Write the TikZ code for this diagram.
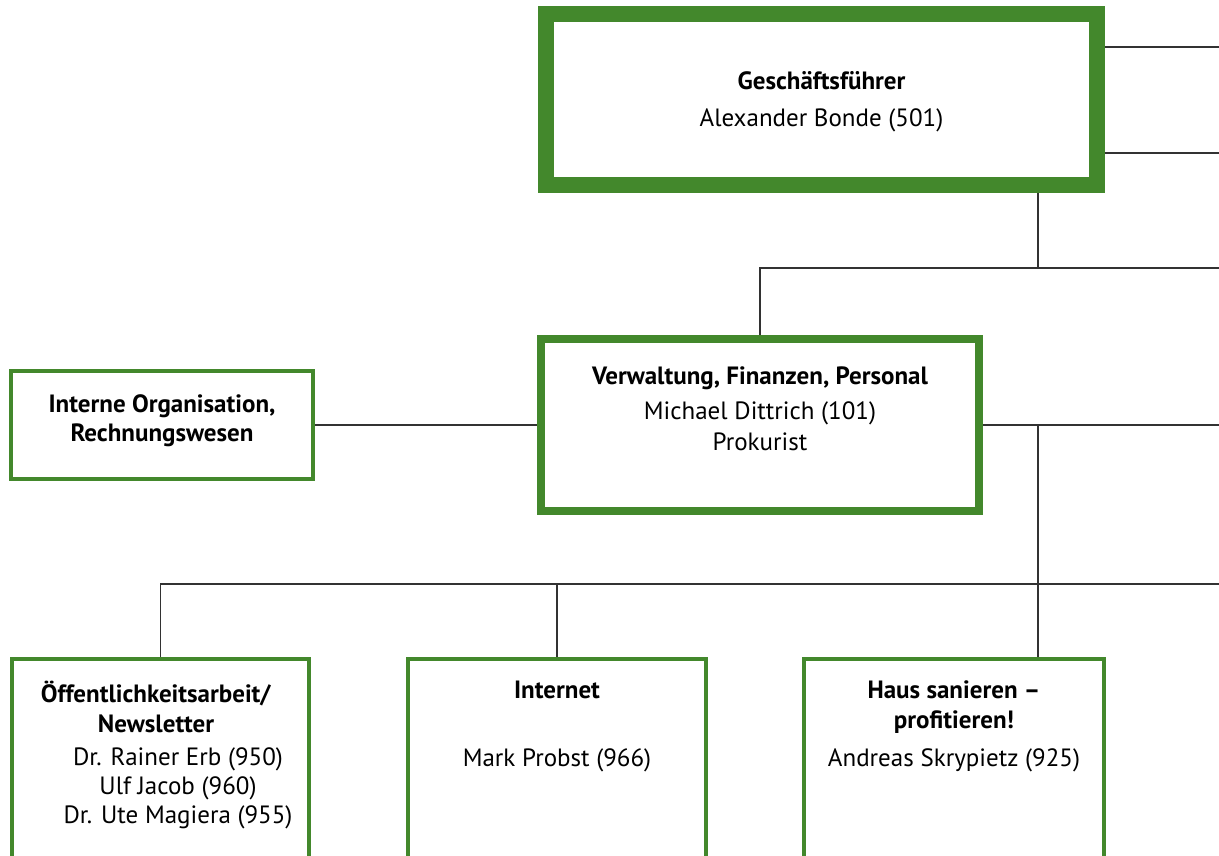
\documentclass[tikz,border=0pt]{standalone}
\usepackage{fontspec}
\setmainfont{PT Sans}
\usetikzlibrary{positioning,backgrounds}
\definecolor{boxgreen}{RGB}{67,136,44}
\definecolor{linegray}{RGB}{50,50,50}

\begin{document}
\begin{tikzpicture}[x=1pt,y=-1pt,
  box/.style={draw=boxgreen, line width=4pt, fill=white, rectangle, inner sep=0pt},
  headbox/.style={box, line width=16pt},
  midbox/.style={box, line width=8pt},
  txt/.style={align=center, inner sep=0pt, font=\fontsize{25}{29}\selectfont},
  conn/.style={draw=linegray, line width=1.2pt}]
\useasboundingbox (0,0) rectangle (1219,856);
\clip (0,0) rectangle (1219,856);
\node [headbox, minimum width=551pt, minimum height=171pt] (gf) at (821.5,99.5) {};
\node [midbox, minimum width=438pt, minimum height=172pt] (vfp) at (760,425) {};
\node [box, minimum width=302pt, minimum height=108pt] (io) at (162,425) {};
\node [box, minimum width=297pt, minimum height=300pt] (oa) at (160.5,809) {};
\node [box, minimum width=298pt, minimum height=300pt] (inet) at (557,809) {};
\node [box, minimum width=300pt, minimum height=300pt] (hs) at (954,809) {};
\node [txt] (gf-text) at (821.5,101.5) {\textbf{Geschäftsführer}\\[8pt]Alexander Bonde (501)};
\node [txt] (vfp-text) at (760,409) {\textbf{Verwaltung, Finanzen, Personal}\\[6pt]Michael Dittrich (101)\\[2pt]Prokurist};
\node [txt] (io-text) at (162,421) {\textbf{Interne Organisation,}\\\textbf{Rechnungswesen}};
\node [txt] (oa-head) at (156,707) {\textbf{Öffentlichkeitsarbeit/}\\[1pt]\textbf{Newsletter}};
\node [txt] (oa-names) at (178,788.5) {Dr. Rainer Erb (950)\\Ulf Jacob (960)\\Dr. Ute Magiera (955)};
\node [txt] (inet-text) at (557,726) {\textbf{Internet}\\[39pt]Mark Probst (966)};
\node [txt] (hs-text) at (954,726) {\textbf{Haus sanieren --}\\[1pt]\textbf{profitieren!}\\[9pt]Andreas Skrypietz (925)};
\coordinate (r1) at (1219,47);
\coordinate (r2) at (1219,153);
\coordinate (r3) at (1219,268);
\coordinate (r4) at (1219,425);
\coordinate (r5) at (1219,584);
\coordinate (j1) at (1038,268);
\begin{scope}[on background layer]
\draw [conn] (r1 -| gf.east) -- (r1);
\draw [conn] (r2 -| gf.east) -- (r2);
\draw [conn] (j1 |- gf.south) -- (j1);
\draw [conn] (vfp.north) -- (vfp.north |- r3) -- (r3);
\draw [conn] (io.east) -- (vfp.west);
\draw [conn] (vfp.east) -- (r4);
\draw [conn] (j1 |- r4) -- (j1 |- hs.north);
\draw [conn] (oa.north) -- (oa.north |- r5) -- (r5);
\draw [conn] (inet.north) -- (inet.north |- r5);
\end{scope}
\end{tikzpicture}
\end{document}
